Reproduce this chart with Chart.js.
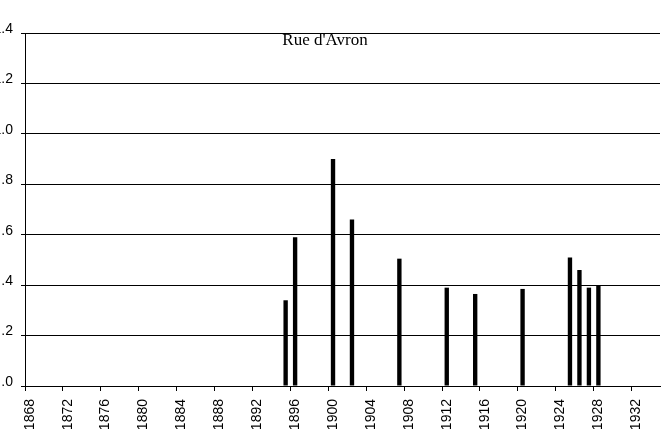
<!DOCTYPE html>
<html>
<head>
<meta charset="utf-8">
<script src="https://cdn.jsdelivr.net/npm/chart.js@4"></script>
<style>
  html, body { margin: 0; padding: 0; overflow: hidden; background: #fff; }
  #wrap { position: absolute; left: -12px; top: 0; width: 684px; height: 440px; }
</style>
</head>
<body>
<div id="wrap"><canvas id="avronChart"></canvas></div>
<script>
// one category per year, labelled every 4 years
const firstYear = 1868;
const lastYear = 1934;
const labelEvery = 4;

const barYears  = [1895, 1896, 1900, 1902, 1907, 1912, 1915, 1920, 1925, 1926, 1927, 1928];
const barValues = [0.34, 0.59, 0.90, 0.66, 0.505, 0.39, 0.365, 0.385, 0.51, 0.46, 0.39, 0.40];

const yTickLabels = ['.0', '.2', '.4', '.6', '.8', '1.0', '1.2', '1.4'];
const chartTitle = "Rue d'Avron";

const years = [];
for (let y = firstYear; y <= lastYear; y++) years.push(String(y));
const series = years.map(y => {
    const i = barYears.indexOf(Number(y));
    return i >= 0 ? barValues[i] : null;
});

// title sits inside the plot, just under the top gridline
const innerTitle = {
    id: 'innerTitle',
    afterDraw(chart) {
        const { ctx, chartArea } = chart;
        ctx.save();
        ctx.font = '17px "Liberation Serif", "Times New Roman", serif';
        ctx.fillStyle = '#000';
        ctx.textAlign = 'center';
        ctx.textBaseline = 'alphabetic';
        ctx.fillText(chartTitle, chartArea.left + 300, chartArea.top + 12);
        ctx.restore();
    }
};

new Chart(document.getElementById('avronChart'), {
    type: 'bar',
    data: {
        labels: years,
        datasets: [{
            data: series,
            backgroundColor: '#000',
            borderWidth: 0,
            categoryPercentage: 1,
            barPercentage: 0.46
        }]
    },
    options: {
        responsive: true,
        maintainAspectRatio: false,
        animation: false,
        layout: { padding: { top: 33, right: 12, bottom: 0, left: 0 } },
        plugins: {
            legend: { display: false },
            title: { display: false },
            tooltip: { enabled: false }
        },
        scales: {
            x: {
                afterFit: scale => {
                    scale.height = 54;
                    scale.paddingLeft = 0;
                    scale.paddingRight = 0;
                },
                border: { display: true, color: '#000', width: 1 },
                grid: {
                    drawOnChartArea: false,
                    tickLength: 5,
                    color: ctx => (ctx.index % labelEvery === 0 ? '#000' : 'rgba(0,0,0,0)')
                },
                ticks: {
                    autoSkip: false,
                    minRotation: 90,
                    maxRotation: 90,
                    padding: 8,
                    color: '#000',
                    font: { family: '"Liberation Sans", Arial, sans-serif', size: 14 },
                    callback: (value, index) => (index % labelEvery === 0 ? years[index] : '')
                }
            },
            y: {
                min: 0,
                max: 1.4,
                afterFit: scale => {
                    scale.width = 37;
                    scale.paddingTop = 0;
                    scale.paddingBottom = 0;
                },
                border: { display: true, color: '#000', width: 1 },
                grid: { color: '#000', lineWidth: 1, tickLength: 4 },
                ticks: {
                    stepSize: 0.2,
                    padding: 8,
                    labelOffset: -4,
                    color: '#000',
                    font: { family: '"Liberation Sans", Arial, sans-serif', size: 14 },
                    callback: (value, index) => yTickLabels[index]
                }
            }
        }
    },
    plugins: [innerTitle]
});
</script>
</body>
</html>
